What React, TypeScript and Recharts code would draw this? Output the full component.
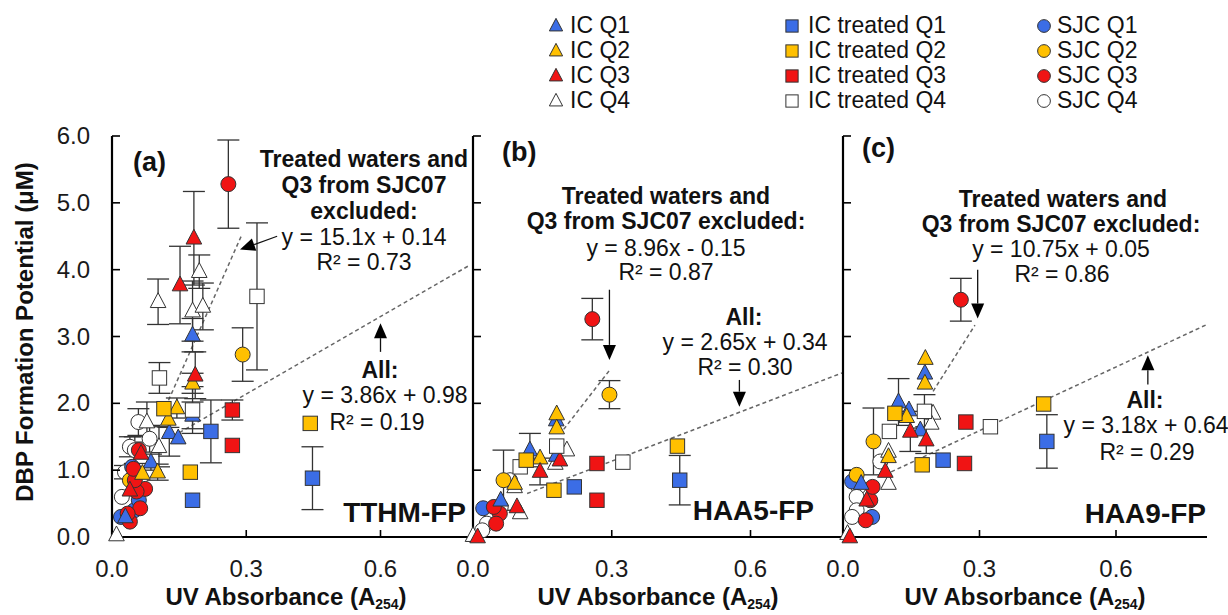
import React from 'react';
import { ScatterChart, Scatter, XAxis, YAxis, ErrorBar, ReferenceLine } from 'recharts';

// [x (A254), y (uM), error]
type Pt = [number, number, number];

// (a) TTHM-FP
const tthmIcQ1: Pt[] = [[0.18, 3.02, 0.25], [0.128, 1.56, 0.35], [0.148, 1.48, 0], [0.087, 1.12, 0.12], [0.18, 1.82, 0.2], [0.03, 0.3, 0]];
const tthmIcQ2: Pt[] = [[0.145, 1.93, 0.15], [0.126, 1.76, 0.12], [0.102, 0.97, 0.12], [0.18, 2.3, 0.15], [0.068, 0.95, 0]];
const tthmIcQ3: Pt[] = [[0.183, 4.47, 0.7], [0.152, 3.77, 0.58], [0.186, 2.42, 0.35], [0.065, 1.25, 0], [0.04, 0.7, 0]];
const tthmIcQ4: Pt[] = [[0.103, 3.52, 0.34], [0.195, 3.97, 0.25], [0.18, 3.38, 0.45], [0.203, 3.45, 0.35], [0.078, 1.72, 0.3], [0.105, 1.35, 0.3], [0.01, 0.03, 0]];
const tthmTrQ1: Pt[] = [[0.221, 1.58, 0.47], [0.18, 0.55, 0], [0.448, 0.88, 0.47]];
const tthmTrQ2: Pt[] = [[0.116, 1.92, 0], [0.175, 0.97, 0], [0.443, 1.7, 0]];
const tthmTrQ3: Pt[] = [[0.269, 1.9, 0.15], [0.269, 1.37, 0]];
const tthmTrQ4: Pt[] = [[0.106, 2.38, 0.23], [0.18, 1.9, 0.35], [0.324, 3.6, 1.1]];
const tthmSjcQ1: Pt[] = [[0.02, 0.3, 0], [0.05, 0.4, 0], [0.06, 0.55, 0], [0.045, 1.05, 0]];
const tthmSjcQ2: Pt[] = [[0.292, 2.73, 0.4], [0.04, 0.85, 0], [0.055, 0.95, 0]];
const tthmSjcQ3: Pt[] = [[0.26, 5.28, 0.66], [0.04, 0.23, 0], [0.063, 0.43, 0], [0.074, 0.72, 0], [0.055, 0.68, 0], [0.051, 0.85, 0], [0.048, 1.02, 0], [0.035, 0.35, 0], [0.06, 1.3, 0]];
const tthmSjcQ4: Pt[] = [[0.059, 1.72, 0.2], [0.084, 1.47, 0.2], [0.04, 1.35, 0.15], [0.051, 1.3, 0.2], [0.029, 0.97, 0.1], [0.022, 0.6, 0]];

// (b) HAA5-FP
const haa5IcQ1: Pt[] = [[0.18, 1.75, 0], [0.123, 1.3, 0.25], [0.18, 1.22, 0], [0.06, 0.55, 0]];
const haa5IcQ2: Pt[] = [[0.181, 1.84, 0], [0.181, 1.63, 0], [0.145, 1.18, 0], [0.09, 0.8, 0]];
const haa5IcQ3: Pt[] = [[0.145, 0.98, 0.2], [0.188, 1.15, 0], [0.095, 0.45, 0], [0.01, 0, 0]];
const haa5IcQ4: Pt[] = [[0.203, 1.3, 0], [0.178, 1.1, 0], [0.102, 0.36, 0], [0.0, 0.02, 0], [0.09, 0.75, 0]];
const haa5TrQ1: Pt[] = [[0.219, 0.75, 0], [0.447, 0.85, 0.37]];
const haa5TrQ2: Pt[] = [[0.175, 0.7, 0], [0.115, 1.15, 0], [0.442, 1.36, 0]];
const haa5TrQ3: Pt[] = [[0.268, 1.1, 0], [0.268, 0.55, 0]];
const haa5TrQ4: Pt[] = [[0.181, 1.36, 0], [0.102, 1.05, 0], [0.324, 1.12, 0]];
const haa5SjcQ1: Pt[] = [[0.022, 0.43, 0]];
const haa5SjcQ2: Pt[] = [[0.295, 2.13, 0.21], [0.066, 0.85, 0.45]];
const haa5SjcQ3: Pt[] = [[0.258, 3.26, 0.31], [0.058, 0.35, 0], [0.05, 0.2, 0], [0.045, 0.45, 0]];
const haa5SjcQ4: Pt[] = [[0.08, 0.85, 0], [0.06, 0.45, 0], [0.04, 0.3, 0], [0.03, 0.2, 0], [0.02, 0.1, 0]];

// (c) HAA9-FP
const haa9IcQ1: Pt[] = [[0.122, 2.02, 0.35], [0.18, 2.45, 0], [0.145, 1.9, 0], [0.17, 1.6, 0], [0.04, 0.8, 0]];
const haa9IcQ2: Pt[] = [[0.181, 2.67, 0], [0.18, 2.3, 0], [0.14, 1.8, 0], [0.1, 1.2, 0]];
const haa9IcQ3: Pt[] = [[0.148, 1.58, 0.3], [0.183, 1.45, 0.2], [0.093, 0.98, 0], [0.052, 0.55, 0], [0.015, 0, 0]];
const haa9IcQ4: Pt[] = [[0.198, 1.85, 0], [0.194, 1.7, 0], [0.1, 1.28, 0], [0.1, 0.8, 0], [0.01, 0.05, 0]];
const haa9TrQ1: Pt[] = [[0.448, 1.43, 0.4], [0.22, 1.15, 0]];
const haa9TrQ2: Pt[] = [[0.441, 1.99, 0], [0.174, 1.08, 0], [0.114, 1.85, 0]];
const haa9TrQ3: Pt[] = [[0.27, 1.72, 0], [0.267, 1.1, 0]];
const haa9TrQ4: Pt[] = [[0.324, 1.65, 0], [0.102, 1.58, 0], [0.179, 1.88, 0.25]];
const haa9SjcQ1: Pt[] = [[0.02, 0.83, 0], [0.064, 0.3, 0]];
const haa9SjcQ2: Pt[] = [[0.067, 1.43, 0.5], [0.03, 0.93, 0]];
const haa9SjcQ3: Pt[] = [[0.259, 3.55, 0.32], [0.06, 0.55, 0], [0.05, 0.25, 0], [0.065, 0.75, 0]];
const haa9SjcQ4: Pt[] = [[0.082, 1.13, 0], [0.034, 0.75, 0], [0.03, 0.6, 0], [0.03, 0.4, 0], [0.02, 0.3, 0]];

// dashed regression lines: [x1, y1, x2, y2]
const tthmFits = [[0.12, 1.95, 0.29, 4.52], [0.137, 1.51, 0.8, 4.07]];
const haa5Fits = [[0.196, 1.61, 0.298, 2.52], [0.117, 0.65, 0.8, 2.46]];
const haa9Fits = [[0.198, 2.18, 0.29, 3.17], [0.092, 0.93, 0.8, 3.18]];

// annotation arrows: [tailX, tailY, tipX, tipY]
const tthmArrows = [[0.369, 4.5, 0.286, 4.3], [0.6, 2.77, 0.6, 3.2]];
const haa5Arrows = [[0.295, 3.7, 0.295, 2.65], [0.576, 2.35, 0.576, 1.95]];
const haa9Arrows = [[0.296, 4.0, 0.296, 3.27], [0.67, 2.28, 0.67, 2.72]];

const xTicks = [0, 0.3, 0.6];
const yTicks = [0, 1, 2, 3, 4, 5, 6];

const FONT = '"Liberation Sans", Arial, Helvetica, sans-serif';
const BLUE = '#3b6de6';
const YELLOW = '#ffc000';
const RED = '#f01414';
const WHITE = '#ffffff';
const AXIS_Y = 537;

type Kind = 'tri' | 'sq' | 'circ';

// drawing order, bottom to top
const SERIES: { key: string; name: string; kind: Kind; fill: string }[] = [
  { key: 'sjcQ4', name: 'SJC Q4', kind: 'circ', fill: WHITE },
  { key: 'sjcQ1', name: 'SJC Q1', kind: 'circ', fill: BLUE },
  { key: 'sjcQ2', name: 'SJC Q2', kind: 'circ', fill: YELLOW },
  { key: 'sjcQ3', name: 'SJC Q3', kind: 'circ', fill: RED },
  { key: 'icQ4', name: 'IC Q4', kind: 'tri', fill: WHITE },
  { key: 'icQ1', name: 'IC Q1', kind: 'tri', fill: BLUE },
  { key: 'icQ2', name: 'IC Q2', kind: 'tri', fill: YELLOW },
  { key: 'icQ3', name: 'IC Q3', kind: 'tri', fill: RED },
  { key: 'trQ4', name: 'IC treated Q4', kind: 'sq', fill: WHITE },
  { key: 'trQ1', name: 'IC treated Q1', kind: 'sq', fill: BLUE },
  { key: 'trQ2', name: 'IC treated Q2', kind: 'sq', fill: YELLOW },
  { key: 'trQ3', name: 'IC treated Q3', kind: 'sq', fill: RED },
];

const tthmData: Record<string, Pt[]> = {
  icQ1: tthmIcQ1, icQ2: tthmIcQ2, icQ3: tthmIcQ3, icQ4: tthmIcQ4,
  trQ1: tthmTrQ1, trQ2: tthmTrQ2, trQ3: tthmTrQ3, trQ4: tthmTrQ4,
  sjcQ1: tthmSjcQ1, sjcQ2: tthmSjcQ2, sjcQ3: tthmSjcQ3, sjcQ4: tthmSjcQ4,
};
const haa5Data: Record<string, Pt[]> = {
  icQ1: haa5IcQ1, icQ2: haa5IcQ2, icQ3: haa5IcQ3, icQ4: haa5IcQ4,
  trQ1: haa5TrQ1, trQ2: haa5TrQ2, trQ3: haa5TrQ3, trQ4: haa5TrQ4,
  sjcQ1: haa5SjcQ1, sjcQ2: haa5SjcQ2, sjcQ3: haa5SjcQ3, sjcQ4: haa5SjcQ4,
};
const haa9Data: Record<string, Pt[]> = {
  icQ1: haa9IcQ1, icQ2: haa9IcQ2, icQ3: haa9IcQ3, icQ4: haa9IcQ4,
  trQ1: haa9TrQ1, trQ2: haa9TrQ2, trQ3: haa9TrQ3, trQ4: haa9TrQ4,
  sjcQ1: haa9SjcQ1, sjcQ2: haa9SjcQ2, sjcQ3: haa9SjcQ3, sjcQ4: haa9SjcQ4,
};

const toRows = (pts: Pt[]) => pts.map(([x, y, e]) => ({ x, y, e: e > 0 ? e : null }));

const Marker = ({ kind, cx, cy, fill, s = 1 }: { kind: Kind; cx: number; cy: number; fill: string; s?: number }) => {
  if (cx == null || cy == null) return null;
  if (kind === 'tri') {
    const w = 7.8 * s, t = 9 * s, b = 5.8 * s;
    return <polygon points={`${cx},${cy - t} ${cx + w},${cy + b} ${cx - w},${cy + b}`} fill={fill} stroke="#333" strokeWidth={1} />;
  }
  if (kind === 'sq') {
    const h = 7.2 * s;
    return <rect x={cx - h} y={cy - h} width={2 * h} height={2 * h} fill={fill} stroke="#333" strokeWidth={1} />;
  }
  return <circle cx={cx} cy={cy} r={7.5 * s} fill={fill} stroke="#333" strokeWidth={1} />;
};

const Arrow = (p: any) => {
  const { x1, y1, x2, y2 } = p;
  const ang = Math.atan2(y2 - y1, x2 - x1);
  const L = 15;
  const W = 6.5;
  const bx = x2 - L * Math.cos(ang);
  const by = y2 - L * Math.sin(ang);
  const px = -Math.sin(ang) * W;
  const py = Math.cos(ang) * W;
  return (
    <g>
      <line x1={x1} y1={y1} x2={bx} y2={by} stroke="#111" strokeWidth={1.3} />
      <polygon points={`${x2},${y2} ${bx + px},${by + py} ${bx - px},${by - py}`} fill="#000" />
    </g>
  );
};

const XTick = (props: any) => {
  const { payload } = props;
  const x = payload?.coordinate ?? props.x;
  return (
    <g>
      {payload.value > 0 && <line x1={x} y1={AXIS_Y} x2={x} y2={AXIS_Y - 7} stroke="#000" strokeWidth={1.6} />}
      <text x={x} y={577} textAnchor="middle" fontSize={24} fill="#1a1a1a" fontFamily={FONT}>
        {Number(payload.value).toFixed(1)}
      </text>
    </g>
  );
};

const makeYTick = (showLabel: boolean, labelRight: number) => (props: any) => {
  const { payload } = props;
  const y = payload?.coordinate ?? props.y;
  return (
    <g>
      {payload.value > 0 && <line x1={60} y1={y} x2={68} y2={y} stroke="#000" strokeWidth={1.6} />}
      {showLabel && (
        <text x={labelRight} y={y + 8} textAnchor="end" fontSize={24} fill="#1a1a1a" fontFamily={FONT}>
          {Number(payload.value).toFixed(1)}
        </text>
      )}
    </g>
  );
};

const Panel = ({ plotLeft, plotW, data, fits, arrows, showLabels }: {
  plotLeft: number; plotW: number; data: Record<string, Pt[]>; fits: number[][]; arrows: number[][]; showLabels: boolean;
}) => (
  <div style={{ position: 'absolute', left: plotLeft - 60, top: 0 }}>
    <ScatterChart width={60 + plotW} height={615} margin={{ top: 136, right: 0, bottom: 48, left: 0 }}>
      <XAxis
        type="number"
        dataKey="x"
        domain={[0, 0.8]}
        ticks={xTicks}
        height={30}
        axisLine={{ stroke: '#000', strokeWidth: 2.2 }}
        tickLine={false}
        tick={<XTick />}
      />
      <YAxis
        type="number"
        dataKey="y"
        domain={[0, 6]}
        ticks={yTicks}
        width={60}
        axisLine={{ stroke: '#000', strokeWidth: 2.2 }}
        tickLine={false}
        tick={makeYTick(showLabels, 38)}
      />
      {fits.map((f, i) => (
        <ReferenceLine
          key={`fit${i}`}
          segment={[{ x: f[0], y: f[1] }, { x: f[2], y: f[3] }]}
          stroke="#666"
          strokeWidth={1.5}
          strokeDasharray="4 3"
        />
      ))}
      {SERIES.map((s) => (
        <Scatter
          key={s.key}
          name={s.name}
          data={toRows(data[s.key])}
          fill={s.fill}
          isAnimationActive={false}
          shape={(p: any) => <Marker kind={s.kind} cx={p.cx} cy={p.cy} fill={s.fill} />}
        >
          <ErrorBar dataKey="e" direction="y" width={11} stroke="#333" strokeWidth={1.3} />
        </Scatter>
      ))}
      {arrows.map((a, i) => (
        <ReferenceLine
          key={`arr${i}`}
          segment={[{ x: a[0], y: a[1] }, { x: a[2], y: a[3] }]}
          stroke="#111"
          shape={Arrow}
        />
      ))}
    </ScatterChart>
  </div>
);

const T = ({ x, y, children, bold, size = 23, anchor = 'middle' }: any) => (
  <text x={x} y={y} fontSize={size} fontWeight={bold ? 'bold' : 'normal'} textAnchor={anchor} fill="#111" fontFamily={FONT}>
    {children}
  </text>
);

const XTitle = ({ cx }: { cx: number }) => (
  <text x={cx} y={605} fontSize={24} fontWeight="bold" textAnchor="middle" fill="#111" fontFamily={FONT}>
    UV Absorbance (A<tspan fontSize={14} dy={4}>254</tspan><tspan dy={-4}>)</tspan>
  </text>
);

const legendCols = [
  { mx: 556, tx: 570, items: SERIES.filter((s) => s.kind === 'tri') },
  { mx: 792, tx: 808, items: SERIES.filter((s) => s.kind === 'sq') },
  { mx: 1044, tx: 1057, items: SERIES.filter((s) => s.kind === 'circ') },
];
const legendOrder = ['Q1', 'Q2', 'Q3', 'Q4'];

export default function App() {
  return (
    <div style={{ position: 'absolute', left: 0, top: 0, width: 1228, height: 615, background: '#fff', overflow: 'hidden' }}>
      <Panel plotLeft={112} plotW={358} data={tthmData} fits={tthmFits} arrows={tthmArrows} showLabels />
      <Panel plotLeft={473} plotW={370} data={haa5Data} fits={haa5Fits} arrows={haa5Arrows} showLabels={false} />
      <Panel plotLeft={843} plotW={364} data={haa9Data} fits={haa9Fits} arrows={haa9Arrows} showLabels={false} />
      <svg width={1228} height={615} style={{ position: 'absolute', left: 0, top: 0, pointerEvents: 'none' }}>
        {/* legend */}
        {legendCols.map((col, ci) =>
          legendOrder.map((q, ri) => {
            const s = col.items.find((it) => it.name.endsWith(q))!;
            const base = 33 + ri * 25;
            return (
              <g key={`${ci}-${ri}`}>
                <Marker kind={s.kind} cx={col.mx} cy={base - 7} fill={s.fill} s={0.85} />
                <T x={col.tx} y={base} anchor="start">{s.name}</T>
              </g>
            );
          })
        )}

        {/* y title */}
        <text
          transform="rotate(-90, 33, 332)"
          x={33}
          y={332}
          fontSize={24}
          fontWeight="bold"
          textAnchor="middle"
          fill="#111"
          fontFamily={FONT}
        >
          DBP Formation Potential (μM)
        </text>

        <XTitle cx={286} />
        <XTitle cx={658} />
        <XTitle cx={1025} />

        {/* panel (a) */}
        <T x={133} y={171} bold size={27} anchor="start">(a)</T>
        <T x={364} y={167} bold>Treated waters and</T>
        <T x={364} y={193} bold>Q3 from SJC07</T>
        <T x={364} y={219} bold>excluded:</T>
        <T x={364} y={245}>y = 15.1x + 0.14</T>
        <T x={364} y={270}>R² = 0.73</T>
        <T x={380} y={378} bold>All:</T>
        <T x={385} y={403}>y = 3.86x + 0.98</T>
        <T x={377} y={430}>R² = 0.19</T>
        <T x={466} y={522} bold size={28} anchor="end">TTHM-FP</T>

        {/* panel (b) */}
        <T x={502} y={161} bold size={27} anchor="start">(b)</T>
        <T x={666} y={204} bold>Treated waters and</T>
        <T x={666} y={229} bold>Q3 from SJC07 excluded:</T>
        <T x={666} y={256}>y = 8.96x - 0.15</T>
        <T x={666} y={280}>R² = 0.87</T>
        <T x={744} y={325} bold>All:</T>
        <T x={745} y={350}>y = 2.65x + 0.34</T>
        <T x={745} y={375}>R² = 0.30</T>
        <T x={814} y={520} bold size={28} anchor="end">HAA5-FP</T>

        {/* panel (c) */}
        <T x={862} y={157} bold size={27} anchor="start">(c)</T>
        <T x={1063} y={207} bold>Treated waters and</T>
        <T x={1061} y={232} bold>Q3 from SJC07 excluded:</T>
        <T x={1061} y={257}>y = 10.75x + 0.05</T>
        <T x={1062} y={282}>R² = 0.86</T>
        <T x={1145} y={408} bold>All:</T>
        <T x={1146} y={433}>y = 3.18x + 0.64</T>
        <T x={1147} y={460}>R² = 0.29</T>
        <T x={1206} y={523} bold size={28} anchor="end">HAA9-FP</T>
      </svg>
    </div>
  );
}
